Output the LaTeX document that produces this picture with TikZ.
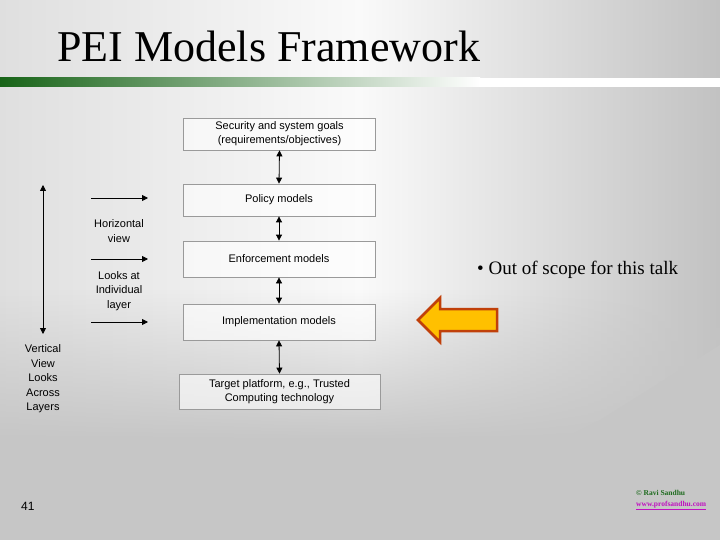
\documentclass[tikz,border=0pt]{standalone}
\usepackage{fontspec}
\setmainfont{Liberation Serif}
\setsansfont{Liberation Sans}
\usetikzlibrary{arrows.meta,fadings}
\definecolor{boxline}{HTML}{9A9A9A}
\definecolor{bggray}{HTML}{C6C6C6}
\definecolor{darkgreen}{HTML}{186418}
\definecolor{arrowfill}{HTML}{FFC000}
\definecolor{arrowline}{HTML}{C0400A}
\definecolor{footgreen}{HTML}{1E6B1E}
\definecolor{footmag}{HTML}{C010C0}
\tikzset{
  layer/.style={draw=boxline, line width=0.8pt, fill=white, fill opacity=0.6, text opacity=1, minimum width=192pt, align=center, font=\sffamily\fontsize{11}{14}\selectfont, inner sep=0pt},
  lbl/.style={align=center, font=\sffamily\fontsize{11}{14.5}\selectfont, inner sep=0pt},
  dbl/.style={{Triangle[length=6pt,width=6pt]}-{Triangle[length=6pt,width=6pt]}, line width=0.8pt},
  harr/.style={-{Triangle[length=6pt,width=6pt]}, line width=0.8pt},
  fatarrow/.style={fill=arrowfill, draw=arrowline, line width=2.5pt, line join=miter},
}
\begin{document}
\begin{tikzpicture}[x=1pt,y=-1pt]
\useasboundingbox (0,0) rectangle (720,540);
% background
\shade[left color=gray!25, right color=gray!48, middle color=white!96!gray] (0,0) rectangle (720,540);
\fill[bggray, path fading=north] (0,290) -- (720,290) -- (720,440) -- (0,440) -- cycle;
\fill[bggray] (720,345) -- (600,420) -- (560,440) -- (0,440) -- (0,540) -- (720,540) -- cycle;
% title
\node[anchor=base west, font=\fontsize{44}{50}\selectfont, inner sep=0pt] (title) at (57,62) {PEI Models Framework};
\shade[left color=darkgreen, right color=white] (0,78) rectangle (480,87);
\fill[white] (480,78) rectangle (720,87);
% layers
\node[layer, minimum height=32pt] (goals) at (279.5,134) {Security and system goals\\(requirements/objectives)};
\node[layer, minimum height=32pt] (policy) at (279,200) {Policy models};
\node[layer, minimum height=36pt] (enf) at (279,259) {Enforcement models};
\node[layer, minimum height=36pt] (impl) at (279,322) {Implementation models};
\node[layer, minimum height=35pt, minimum width=201pt] (target) at (279.5,391.5) {Target platform, e.g., Trusted\\Computing technology};
\draw[dbl] (goals.south) -- (policy.north);
\draw[dbl] (policy.south) -- (enf.north);
\draw[dbl] (enf.south) -- (impl.north);
\draw[dbl] (impl.south) -- (target.north);
% left side
\coordinate (vtop) at (43,185);
\coordinate (vbot) at (43,334);
\draw[dbl] (vtop) -- (vbot);
\coordinate (h1a) at (91,198); \coordinate (h1b) at (148,198);
\coordinate (h2a) at (91,259); \coordinate (h2b) at (148,259);
\coordinate (h3a) at (91,322); \coordinate (h3b) at (148,322);
\draw[harr] (h1a) -- (h1b);
\draw[harr] (h2a) -- (h2b);
\draw[harr] (h3a) -- (h3b);
\node[lbl] (hview) at (119,231) {Horizontal\\view};
\node[lbl] (looks) at (119,291) {Looks at\\Individual\\layer};
\node[lbl] (vview) at (43,379) {Vertical\\View\\Looks\\Across\\Layers};
% bullet
\node[anchor=base west, font=\fontsize{19}{22}\selectfont, inner sep=0pt] (bullet) at (477,274) {\textbullet\ Out of scope for this talk};
\draw[fatarrow] (418,320) -- (440,298) -- (440,309) -- (497,309) -- (497,331) -- (440,331) -- (440,342) -- cycle;
% footer
\node[anchor=base west, font=\sffamily\fontsize{12}{14}\selectfont, inner sep=0pt] (pnum) at (21,510) {41};
\node[anchor=base west, font=\bfseries\fontsize{7.5}{9}\selectfont, text=footgreen, inner sep=0pt] (copy) at (636,495) {© Ravi Sandhu};
\node[anchor=base west, font=\bfseries\fontsize{7.5}{9}\selectfont, text=footmag, inner sep=0pt] (www) at (636,506) {\underline{www.profsandhu.com}};
\end{tikzpicture}
\end{document}
